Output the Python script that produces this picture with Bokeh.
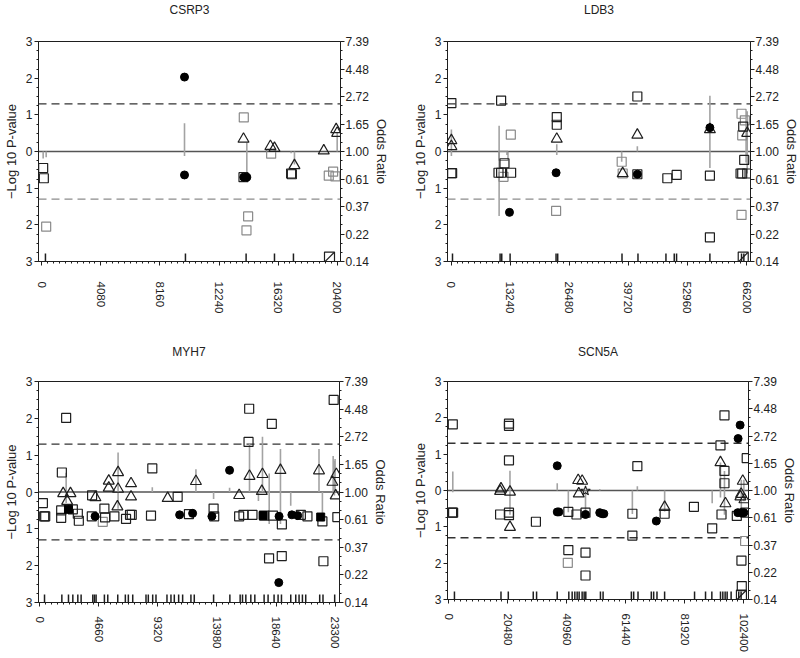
import math
import numpy as np
from bokeh.plotting import figure
from bokeh.models import (Range1d, LinearAxis, FixedTicker, SingleIntervalTicker,
                          CustomJSTickFormatter, Span, Title)
from bokeh.layouts import column, row
from bokeh.embed import file_html
from bokeh.resources import INLINE

# ---------------- data ----------------
# CSRP3
csrp3_sqA_x = [92, 138, 13930, 17220, 17270]
csrp3_sqA_y = [-0.45, -0.73, -0.70, -0.60, -0.62]
csrp3_sqB_x = [300, 13950, 14250, 14135, 15840, 19820, 20120, 20280]
csrp3_sqB_y = [-2.05, 0.93, -1.77, -2.15, -0.06, -0.66, -0.55, -0.68]
csrp3_tri_x = [13930, 15790, 16070, 17450, 19475, 20330, 20400]
csrp3_tri_y = [0.34, 0.14, 0.09, -0.38, 0.02, 0.60, 0.50]
csrp3_dot_x = [9855, 9855, 13950, 14160]
csrp3_dot_y = [2.03, -0.64, -0.70, -0.70]
csrp3_stem_x = [92, 300, 9855, 14160, 16070, 17220, 17450, 20400]
csrp3_stem_lo = [0.88, 0.90, 0.92, 0.64, 1.00, 0.97, 0.79, 1.00]
csrp3_stem_hi = [1.00, 1.00, 1.67, 1.18, 1.07, 1.00, 1.00, 1.40]
csrp3_rug_x = [250, 9920, 14110, 16070, 17380]
csrp3_hatch_x = [19870]

# LDB3
ldb3_sqA_x = [52, 52, 220, 11195, 10610, 11200, 11950, 13440, 23670, 23670, 41730, 41730,
              48450, 50540, 57990, 57990, 65460, 65680, 64860, 65230, 66350]
ldb3_sqA_y = [1.32, -0.59, -0.59, 1.39, -0.58, -0.58, -0.32, -0.58, 0.94, 0.73, 1.50, -0.62,
              -0.73, -0.64, -0.66, -2.34, 0.68, -0.23, -0.60, -0.60, -0.60]
ldb3_sqB_x = [11730, 11730, 13370, 23520, 38220, 38440, 65080, 65830, 65080, 65230]
ldb3_sqB_y = [-0.12, -0.69, 0.46, -1.62, -0.28, -0.60, 1.03, 0.85, -1.73, 0.44]
ldb3_tri_x = [52, 52, 23670, 38440, 41730, 57990, 66350]
ldb3_tri_y = [0.30, 0.14, 0.34, -0.60, 0.45, 0.60, 0.50]
ldb3_dot_x = [13070, 23520, 41730, 57990]
ldb3_dot_y = [-1.66, -0.58, -0.62, 0.65]
ldb3_stem_x = [52, 10750, 12500, 23670, 38220, 41730, 57990, 66100, 66350]
ldb3_stem_lo = [0.92, 0.31, 0.94, 0.94, 0.83, 1.00, 0.74, 0.82, 0.67]
ldb3_stem_hi = [1.49, 1.60, 1.00, 1.14, 1.00, 1.10, 2.75, 1.82, 2.08]
ldb3_rug_x = [300, 10970, 11340, 13210, 23510, 23880, 38290, 41870, 48140, 50000, 50520,
              57990, 65080, 65600]
ldb3_hatch_x = [65460]

# MYH7
myh7_sqA_x = [236, 340, 420, 1733, 1680, 1680, 2072, 2600, 2994, 3073,
              4121, 4097, 5092, 5146, 5881, 6800, 7115, 7250, 8873, 8770,
              10874, 11765, 13711, 13760, 15728, 16070, 16780, 16520, 16470, 17700,
              18306, 18400, 19100, 18090, 19093, 20600, 21120, 22300, 22380, 23190,
              23481]
myh7_sqA_y = [-0.30, -0.66, -0.66, 0.53, -0.50, -0.70, 2.01, -0.47, -0.59, -0.78,
              -0.09, -0.66, -0.45, -0.69, -0.66, -0.73, -0.62, -0.62, 0.64, -0.64,
              -0.13, -0.60, -0.45, -0.66, -0.66, -0.62, -0.62, 2.26, 1.36, -0.64,
              1.85, -0.64, -0.88, -1.80, -1.74, -0.62, -0.66, -0.80, -1.88, 2.50,
              -0.68]
myh7_sqB_x = [4963]
myh7_sqB_y = [-0.81]
myh7_tri_x = [1838, 2413, 2150, 4383, 5436, 5436, 6172, 6172, 6120, 7195, 7195, 10086,
              12317, 15728, 16546, 17570, 17520, 18990, 22032, 23400, 23088, 23350]
myh7_tri_y = [-0.04, -0.04, -0.25, -0.15, 0.30, 0.11, 0.53, 0.08, -0.40, 0.23, -0.13, -0.17,
              0.29, -0.09, 0.43, 0.48, 0.02, 0.59, 0.58, 0.48, 0.27, -0.10]
myh7_dot_x = [4357, 11031, 12056, 13578, 14973, 18880, 18857, 19890, 20350]
myh7_dot_y = [-0.66, -0.62, -0.58, -0.66, 0.59, -0.66, -2.46, -0.62, -0.64]
myh7_fsq_x = [2256, 17620, 22166]
myh7_fsq_y = [-0.47, -0.64, -0.68]
myh7_stem_x = [2072, 4500, 6172, 8873, 12317, 13711, 14973, 16546, 17250, 17570, 18100,
               18990, 19800, 22032, 22300, 23150, 23250, 23300]
myh7_stem_lo = [0.82, 0.94, 0.74, 1.00, 1.00, 0.88, 1.00, 1.00, 0.85, 1.00, 0.56,
                0.56, 0.78, 1.00, 0.59, 1.00, 0.94, 1.00]
myh7_stem_hi = [1.42, 1.00, 2.04, 1.09, 1.51, 1.00, 1.08, 2.43, 1.00, 2.72, 1.40,
                2.18, 1.00, 2.18, 1.00, 1.92, 1.76, 1.82]
myh7_rug_x = [365, 1733, 2257, 2600, 2994, 3254, 4176, 4307, 4436, 5092, 5358, 6146, 6745,
              6982, 7328, 8376, 8558, 8904, 9164, 10031, 10346, 10610, 10953, 11268, 11922,
              12186, 13711, 14996, 15807, 15994, 16256, 16650, 16966, 17699, 18013, 18486,
              18802, 19069, 19802, 20196, 20458, 20724, 20984, 22087, 22347, 23270]
myh7_hatch_x = []

# SCN5A
scn5a_sqA_x = [1385, 1150, 1500, 17800, 20880, 20880, 20880, 20880, 20880, 30230,
               41480, 41480, 44320, 47440, 47440, 47440, 63700, 63700, 65430, 74900,
               85060, 91400, 94270, 95660, 95660, 95660, 94630, 99940, 103380, 101550,
               101670, 102900]
scn5a_sqA_y = [1.82, -0.61, -0.61, -0.66, 1.84, 1.78, 0.83, -0.61, -0.68, -0.86,
               -0.59, -1.64, -0.66, -0.61, -1.71, -2.34, -0.64, -1.24, 0.67, -0.64,
               -0.45, -1.04, 1.24, 2.07, 0.54, 0.20, -0.66, -0.70, 0.89, -1.93,
               -2.63, -0.61]
scn5a_sqB_x = [41300, 102820]
scn5a_sqB_y = [-1.99, -1.39]
scn5a_tri_x = [17800, 18110, 21230, 21230, 44900, 46280, 45100, 74900, 94270, 96000,
               102010, 101440, 101200, 102590]
scn5a_tri_y = [-0.02, 0.05, -0.04, -1.01, 0.28, 0.26, -0.09, -0.46, 0.77, -0.36,
               0.26, -0.10, -0.17, -0.25]
scn5a_dot_x = [37630, 37630, 38200, 47440, 52380, 53200, 53800, 72010, 101090, 100390,
               100300, 101500, 102400]
scn5a_dot_y = [0.68, -0.59, -0.59, -0.66, -0.61, -0.64, -0.64, -0.84, 1.80, 1.43,
               -0.61, -0.61, -0.61]
scn5a_star_x = [47440]
scn5a_star_y = [-0.01]
scn5a_stem_x = [1385, 21230, 37630, 41480, 47440, 52400, 63700, 65430, 74900, 91400,
                94270, 95660, 101500, 102400]
scn5a_stem_lo = [0.97, 0.64, 1.00, 0.67, 0.67, 1.00, 0.65, 1.00, 0.68, 0.79,
                 0.88, 0.64, 0.72, 0.82]
scn5a_stem_hi = [1.42, 1.44, 1.14, 1.00, 1.00, 1.03, 1.00, 1.08, 1.00, 1.00,
                 1.67, 1.43, 1.22, 1.22]
scn5a_rug_x = [1960, 18110, 20650, 29310, 30460, 37620, 41650, 42810, 43730, 44540, 45230,
               46270, 46970, 47540, 52620, 53540, 63350, 64160, 65660, 70270, 71090, 72240,
               74890, 85280, 89090, 91280, 94280, 95090, 95890, 96590, 97970, 100620, 101430]
scn5a_hatch_x = [101550]

P_TICKS = [-3, -2, -1, 0, 1, 2, 3]
LNOR_TICKS = [-2.0, -1.5, -1.0, -0.5, 0.0, 0.5, 1.0, 1.5, 2.0]
SIG = -math.log10(0.05)

# ---------------- style ----------------
FONT = "Liberation Sans"
TXT = "#222222"
DARK = "#1e1e1e"
GREY = "#8a8a8a"
STEM = "#a3a3a3"


def style_axis(ax):
    ax.axis_line_color = DARK
    ax.axis_line_width = 1
    ax.major_tick_line_color = DARK
    ax.minor_tick_line_color = DARK
    ax.major_tick_in = 0
    ax.major_tick_out = 4
    ax.minor_tick_in = 0
    ax.minor_tick_out = 2
    ax.major_label_text_font = FONT
    ax.major_label_text_font_size = "12px"
    ax.major_label_text_color = TXT
    ax.axis_label_text_font = FONT
    ax.axis_label_text_font_size = "13px"
    ax.axis_label_text_font_style = "normal"
    ax.axis_label_text_color = TXT


def panel(title, xr, step, sqA, sqB, tri, dot, fsq, star, stems, rug, hatch,
          frame, borders, gap, xstand, low_dash):
    fw, fh = frame
    l, r, t, b = borders
    p = figure(frame_width=fw, frame_height=fh, x_range=Range1d(*xr), y_range=Range1d(-3, 3),
               output_backend="svg", toolbar_location=None,
               min_border_left=l, min_border_right=r, min_border_top=t, min_border_bottom=b)
    p.extra_y_ranges = {"or": Range1d(-2, 2)}
    p.grid.visible = False
    p.outline_line_color = DARK
    p.background_fill_color = "white"
    p.border_fill_color = "white"

    # spacer (nearest the frame), then the real title
    p.add_layout(Title(text=" ", text_font_size="1px", standoff=gap), "above")
    p.add_layout(Title(text=title, align="center", standoff=0, offset=0,
                       text_font=FONT, text_font_size="12px", text_font_style="normal",
                       text_color=TXT), "above")

    # bottom axis
    xa = p.xaxis[0]
    style_axis(xa)
    xa.ticker = SingleIntervalTicker(interval=step, num_minor_ticks=10)
    xa.formatter = CustomJSTickFormatter(code="return tick.toFixed(0);")
    xa.major_label_orientation = -math.pi / 2
    xa.major_label_standoff = xstand
    xa.major_label_text_font_size = "11.5px"

    # left axis
    ya = p.yaxis[0]
    style_axis(ya)
    ya.ticker = FixedTicker(ticks=P_TICKS, minor_ticks=list(np.arange(-3, 3.001, 0.25)))
    ya.formatter = CustomJSTickFormatter(code="return Math.abs(tick).toFixed(0);")
    ya.axis_label = "\u2212Log 10 P-value"
    ya.major_label_standoff = 2
    ya.axis_label_standoff = 4

    # right axis (odds ratio, log scale)
    ra = LinearAxis(y_range_name="or")
    style_axis(ra)
    ra.ticker = FixedTicker(ticks=LNOR_TICKS, minor_ticks=list(np.arange(-2, 2.001, 0.5 / 3)))
    ra.formatter = CustomJSTickFormatter(code="return Math.exp(tick).toFixed(2);")
    ra.axis_label = "Odds Ratio"
    ra.major_label_standoff = 1
    ra.axis_label_standoff = 2
    p.add_layout(ra, "right")

    # reference lines
    p.add_layout(Span(location=0, dimension="width", line_color="#555555", line_width=1.3,
                      level="underlay"))
    p.add_layout(Span(location=SIG, dimension="width", line_color="#333333", line_width=1.3,
                      line_dash="8 5", level="underlay"))
    p.add_layout(Span(location=-SIG, dimension="width", line_color=low_dash, line_width=1.3,
                      line_dash="8 5", level="underlay"))

    # odds-ratio stems
    sx, slo, shi = stems
    p.segment(x0=sx, y0=np.log(slo), x1=sx, y1=np.log(shi), y_range_name="or",
              line_color=STEM, line_width=1.6)

    # rug ticks at the base
    p.segment(x0=rug, y0=[-3] * len(rug), x1=rug, y1=[-2.78] * len(rug),
              line_color=DARK, line_width=1.5)

    # markers
    p.scatter(sqB[0], sqB[1], marker="square", size=9, fill_color=None,
              line_color=GREY, line_width=1.2)
    p.scatter(sqA[0], sqA[1], marker="square", size=9, fill_color=None,
              line_color=DARK, line_width=1.2)
    p.scatter(tri[0], tri[1], marker="triangle", size=11, fill_color=None,
              line_color=DARK, line_width=1.2)
    if fsq[0]:
        p.scatter(fsq[0], fsq[1], marker="square", size=8, fill_color="black",
                  line_color="black")
    p.scatter(dot[0], dot[1], marker="circle", size=8, fill_color="black",
              line_color="black")
    if star[0]:
        p.scatter(star[0], star[1], marker="star", size=10, fill_color=None,
                  line_color=DARK, line_width=1.1)
    if hatch:
        hy = [-2.88] * len(hatch)
        p.scatter(hatch, hy, marker="square", size=10, fill_color=None,
                  line_color=DARK, line_width=1.2)
        p.scatter(hatch, hy, marker="dash", size=13, angle=math.pi / 4,
                  line_color=DARK, line_width=1.2)
    return p


p1 = panel("CSRP3", (-230, 20630), 4080,
           (csrp3_sqA_x, csrp3_sqA_y), (csrp3_sqB_x, csrp3_sqB_y),
           (csrp3_tri_x, csrp3_tri_y), (csrp3_dot_x, csrp3_dot_y), ([], []), ([], []),
           (csrp3_stem_x, csrp3_stem_lo, csrp3_stem_hi), csrp3_rug_x, csrp3_hatch_x,
           (302, 220), (29, 58, 35, 66), 22, 16, "#8c8c8c")
p2 = panel("LDB3", (-820, 67090), 13240,
           (ldb3_sqA_x, ldb3_sqA_y), (ldb3_sqB_x, ldb3_sqB_y),
           (ldb3_tri_x, ldb3_tri_y), (ldb3_dot_x, ldb3_dot_y), ([], []), ([], []),
           (ldb3_stem_x, ldb3_stem_lo, ldb3_stem_hi), ldb3_rug_x, ldb3_hatch_x,
           (303, 220), (49, 40, 35, 66), 22, 16, "#8c8c8c")
p3 = panel("MYH7", (-110, 23650), 4660,
           (myh7_sqA_x, myh7_sqA_y), (myh7_sqB_x, myh7_sqB_y),
           (myh7_tri_x, myh7_tri_y), (myh7_dot_x, myh7_dot_y), (myh7_fsq_x, myh7_fsq_y),
           ([], []), (myh7_stem_x, myh7_stem_lo, myh7_stem_hi), myh7_rug_x, myh7_hatch_x,
           (301, 221), (29, 59, 54, 46), 20, 10, "#333333")
p4 = panel("SCN5A", (-450, 104000), 20480,
           (scn5a_sqA_x, scn5a_sqA_y), (scn5a_sqB_x, scn5a_sqB_y),
           (scn5a_tri_x, scn5a_tri_y), (scn5a_dot_x, scn5a_dot_y), ([], []),
           (scn5a_star_x, scn5a_star_y), (scn5a_stem_x, scn5a_stem_lo, scn5a_stem_hi),
           scn5a_rug_x, scn5a_hatch_x, (301, 218), (49, 42, 53, 50), 20, 10, "#333333")

layout = column(row(p1, p2), row(p3, p4))
open("out.html", "w").write(file_html(layout, INLINE))
